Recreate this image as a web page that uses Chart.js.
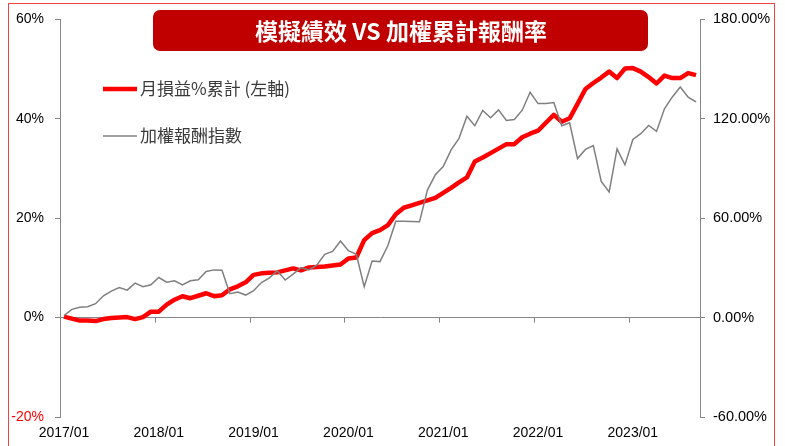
<!DOCTYPE html>
<html lang="zh-Hant">
  <head>
    <meta charset="UTF-8" />
    <title>模擬績效 VS 加權累計報酬率</title>
    <style>
      * {
        margin: 0;
        padding: 0;
        box-sizing: border-box;
      }
      body {
        width: 785px;
        height: 446px;
        overflow: hidden;
        background: #fff;
        position: relative;
      }
      .frame {
        position: absolute;
        left: 8px;
        top: 3px;
        width: 767px;
        height: 470px;
        border: 1px solid #f04444;
        pointer-events: none;
      }
    </style>
  </head>
  <body>
    <canvas id="myChart" width="785" height="446"></canvas>
    <div class="frame"></div>

    <script src="https://cdn.jsdelivr.net/npm/chart.js"></script>

    <script>
      // months 2017/01 .. 2023/09
      const months = [];
      for (let y = 2017; y <= 2023; y++) {
        for (let m = 1; m <= 12; m++) {
          if (y === 2023 && m > 9) break;
          months.push(y + "/" + String(m).padStart(2, "0"));
        }
      }

      // 月損益%累計 (左軸, %)
      const strategy = [
        0.2, -0.2, -0.6, -0.6, -0.7, -0.3, -0.1, 0.0, 0.1, -0.3, 0.1, 1.2,
        1.2, 2.6, 3.6, 4.3, 3.9, 4.4, 4.9, 4.3, 4.5, 5.7, 6.3, 7.1,
        8.6, 8.9, 9.0, 9.1, 9.5, 9.9, 9.5, 10.1, 10.2, 10.3, 10.5, 10.7,
        11.9, 12.1, 15.6, 17.0, 17.6, 18.6, 20.8, 22.1, 22.6, 23.1, 23.6, 24.1,
        25.1, 26.1, 27.2, 28.2, 31.4, 32.2, 33.1, 34.0, 34.9, 34.9, 36.3, 37.0,
        37.6, 39.2, 40.8, 39.4, 40.1, 43.0, 46.0, 47.2, 48.3, 49.5, 48.2, 50.1,
        50.2, 49.5, 48.4, 47.1, 48.7, 48.2, 48.2, 49.2, 48.8,
      ];

      // 加權報酬指數 (右軸, %)
      const taiex = [
        1.2, 5.0, 6.2, 6.6, 8.4, 13.2, 16.0, 18.2, 16.6, 20.8, 18.6, 19.8,
        24.2, 21.4, 22.2, 19.8, 22.2, 22.8, 27.8, 28.8, 28.6, 14.4, 15.4, 13.6,
        16.2, 21.2, 24.0, 28.2, 22.7, 26.2, 30.2, 28.8, 31.6, 38.2, 40.0, 46.2,
        40.4, 38.2, 18.6, 34.2, 33.8, 43.5, 58.2, 58.2, 58.0, 57.8, 77.0, 86.2,
        91.2, 101.2, 108.2, 121.6, 115.8, 125.0, 120.6, 125.4, 119.0, 119.6, 125.2, 136.0,
        129.2, 129.2, 129.8, 115.8, 117.6, 96.0, 101.5, 103.8, 82.2, 75.8, 101.8, 92.2,
        107.5, 111.0, 116.0, 112.4, 126.0, 133.2, 139.2, 133.0, 130.2,
      ];

      const titleText = "模擬績效 VS 加權累計報酬率";
      const seriesNames = ["月損益%累計 (左軸)", "加權報酬指數"];

      const AXIS_GREY = "#868686";
      const CJK = "'Noto Sans CJK TC', 'Noto Sans', sans-serif";

      Chart.defaults.font.family = "'Liberation Sans', Arial, sans-serif";
      Chart.defaults.font.size = 14;
      Chart.defaults.color = "#000";

      // red title box
      const titleBox = {
        id: "titleBox",
        afterDraw(chart) {
          const { ctx } = chart;
          ctx.save();
          ctx.fillStyle = "#C00000";
          ctx.beginPath();
          ctx.roundRect(153, 10, 495, 41, 7);
          ctx.fill();
          ctx.fillStyle = "#fff";
          ctx.font = "bold 23px " + CJK;
          ctx.textAlign = "center";
          ctx.textBaseline = "middle";
          ctx.fillText(titleText, 401, 31);
          ctx.restore();
        },
      };

      // legend inside plot, upper left
      const sideLegend = {
        id: "sideLegend",
        afterDraw(chart) {
          const { ctx } = chart;
          const rows = [89, 136];
          ctx.save();
          chart.data.datasets.forEach((ds, i) => {
            const y = rows[i];
            ctx.strokeStyle = ds.borderColor;
            ctx.lineWidth = ds.borderWidth;
            ctx.lineCap = "butt";
            ctx.beginPath();
            ctx.moveTo(103, y);
            ctx.lineTo(137, y);
            ctx.stroke();
            ctx.fillStyle = "#3a3a3a";
            ctx.font = "17px " + CJK;
            ctx.textBaseline = "middle";
            ctx.fillText(ds.label, 140, y);
          });
          ctx.restore();
        },
      };

      // small tick marks on the 0% line at each January
      const zeroTicks = {
        id: "zeroTicks",
        beforeDatasetsDraw(chart) {
          const { ctx, scales } = chart;
          const x = scales.x;
          const y0 = scales.y.getPixelForValue(0);
          const half = (x.getPixelForValue(1) - x.getPixelForValue(0)) / 2;
          ctx.save();
          ctx.strokeStyle = AXIS_GREY;
          ctx.lineWidth = 1;
          ctx.beginPath();
          months.forEach((m, i) => {
            if (i > 0 && m.endsWith("/01")) {
              const px = Math.round(x.getPixelForValue(i) - half) + 0.5;
              ctx.moveTo(px, y0);
              ctx.lineTo(px, y0 + 5);
            }
          });
          ctx.stroke();
          ctx.restore();
        },
      };

      const config = {
        type: "line",
        data: {
          labels: months,
          datasets: [
            {
              label: seriesNames[0],
              data: strategy,
              borderColor: "#FF0000",
              borderWidth: 4.5,
              pointRadius: 0,
              tension: 0,
              borderJoinStyle: "round",
              yAxisID: "y",
              order: 1,
            },
            {
              label: seriesNames[1],
              data: taiex,
              borderColor: "#7F7F7F",
              borderWidth: 1.5,
              pointRadius: 0,
              tension: 0,
              yAxisID: "y1",
              order: 0,
            },
          ],
        },
        options: {
          responsive: false,
          animation: false,
          events: [],
          layout: { padding: { top: 19, left: 0, right: 0, bottom: 0 } },
          plugins: {
            legend: { display: false },
            tooltip: { enabled: false },
          },
          scales: {
            x: {
              offset: true,
              grid: { display: false, drawTicks: false },
              border: { display: false },
              ticks: {
                autoSkip: false,
                maxRotation: 0,
                padding: 8,
                color: "#000",
                callback: (v, i) => (months[i].endsWith("/01") ? months[i] : null),
              },
              afterFit: (s) => {
                s.height = 29;
              },
            },
            y: {
              position: "left",
              min: -20,
              max: 60,
              ticks: {
                stepSize: 20,
                padding: 11,
                callback: (v) => v + "%",
                color: (c) => (c.tick && c.tick.value === -20 ? "#FF0000" : "#000"),
              },
              grid: {
                drawOnChartArea: true,
                color: (c) => (c.tick && c.tick.value === 0 ? AXIS_GREY : "rgba(0,0,0,0)"),
                tickColor: AXIS_GREY,
                tickLength: 5,
              },
              border: { display: true, color: AXIS_GREY },
              afterFit: (s) => {
                s.width = 60;
              },
            },
            y1: {
              position: "right",
              min: -60,
              max: 180,
              ticks: {
                stepSize: 60,
                padding: 8,
                font: { size: 14.5 },
                callback: (v) => v.toFixed(2) + "%",
              },
              grid: {
                drawOnChartArea: false,
                tickColor: AXIS_GREY,
                tickLength: 5,
              },
              border: { display: true, color: AXIS_GREY },
              afterFit: (s) => {
                s.width = 85;
              },
            },
          },
        },
        plugins: [zeroTicks, titleBox, sideLegend],
      };

      const myChart = new Chart(document.getElementById("myChart"), config);
    </script>
  </body>
</html>
